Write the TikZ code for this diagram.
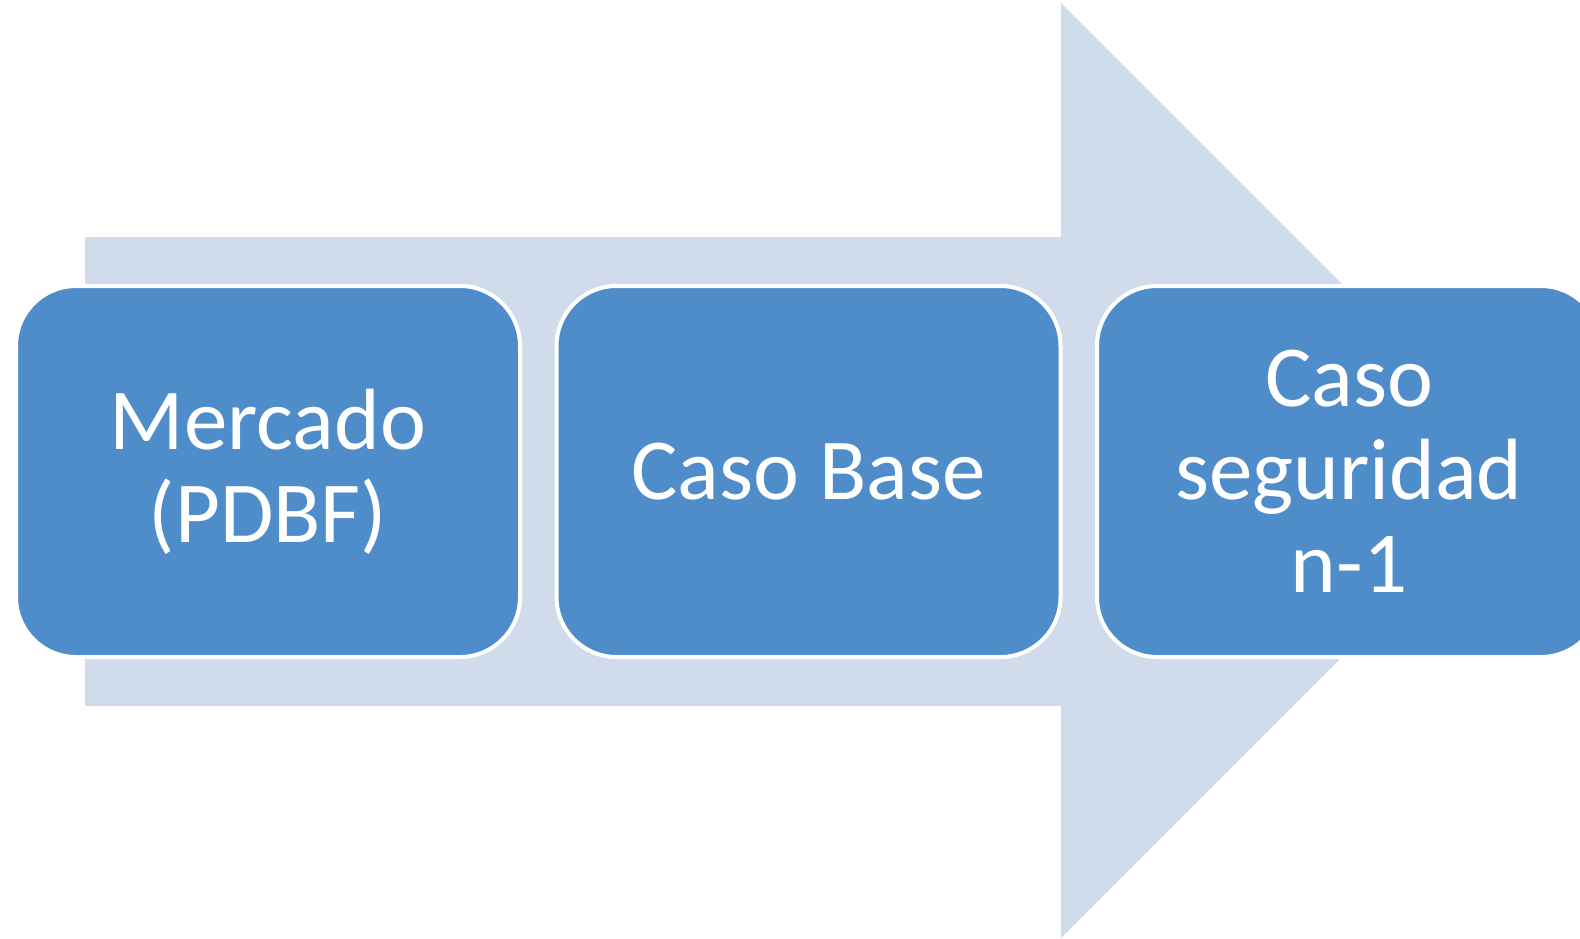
\documentclass[tikz,border=0pt]{standalone}
\usepackage{fontspec}
\newfontfamily\stagefont{Carlito}
\usepackage{xcolor}
\definecolor{stagebg}{HTML}{D0DCEB}
\definecolor{stagefill}{HTML}{4F8DCA}
\usepackage{tikz}
\usetikzlibrary{positioning}
\tikzset{
  stagebox/.style={draw=white,line width=2pt,fill=stagefill,rounded corners=30pt,outer sep=0pt,
    minimum width=252pt,minimum height=185.5pt,align=center,text=white,
    font=\stagefont\fontsize{43.5}{46.5}\selectfont},
  stagearrow/.style={fill=stagebg},
}
\begin{document}
\begin{tikzpicture}[x=0.5pt,y=-0.5pt]
  \useasboundingbox (0,0) rectangle (1580,938);
  % big arrow behind the three steps
  \fill[stagearrow] (85,237) -- (1061,237) -- (1061,3) -- (1528.5,470.5) -- (1061,938) -- (1061,706) -- (85,706) -- cycle;
  % steps
  \node[stagebox] (mercado) at (268,471.5) {Mercado\\(PDBF)};
  \node[stagebox,right=18.25pt of mercado] (base) {Caso Base};
  \node[stagebox,right=18.25pt of base] (seguridad) {Caso\\seguridad\\n-1};
\end{tikzpicture}
\end{document}
